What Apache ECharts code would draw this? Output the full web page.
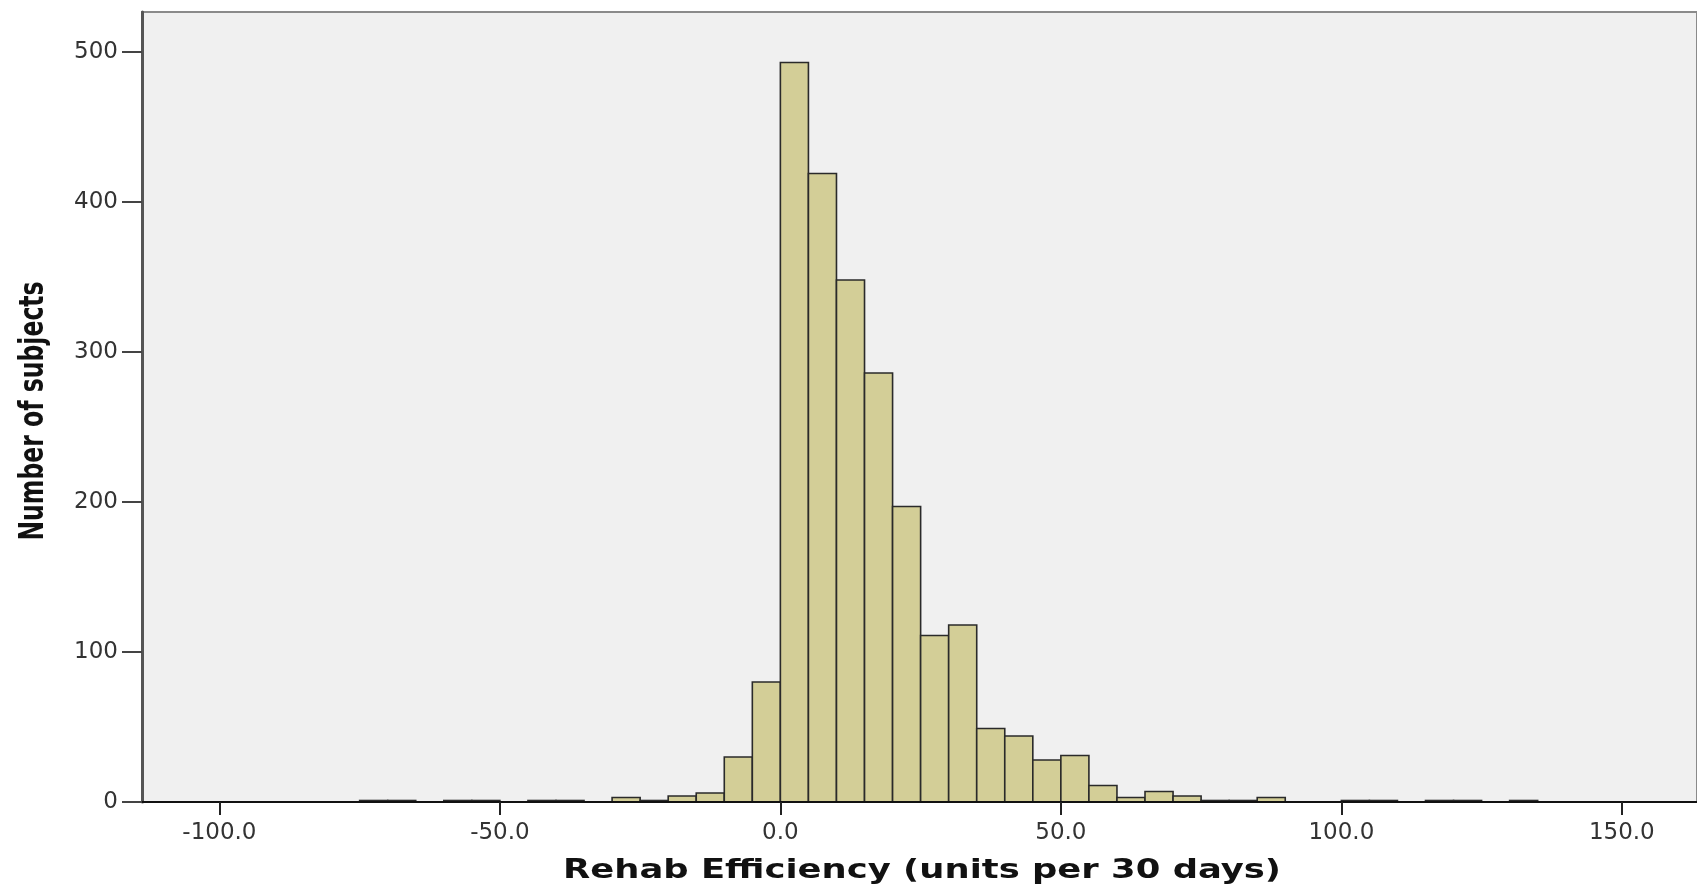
<!DOCTYPE html>
<html><head><meta charset="utf-8">
<script src="https://cdn.jsdelivr.net/npm/echarts@6/dist/echarts.min.js"></script>
<style>html,body{margin:0;padding:0;background:#fff;}#c{width:1697px;height:890px;}</style>
</head><body><div id="c"></div>
<script>
// Histogram data: bin start (units per 30 days), bin width 5, count of subjects
const binStarts = [-75,-70,-60,-55,-45,-40,-30,-25,-20,-15,-10,-5,0,5,10,15,20,25,30,35,40,45,50,55,60,65,70,75,80,85,100,105,115,120,130];
const counts    = [1,1,1,1,1,1,3,1,4,6,30,80,493,419,348,286,197,111,118,49,44,28,31,11,3,7,4,1,1,3,1,1,1,1,1];
const binWidth = 5;
const xTicks = [-100,-50,0,50,100,150];
const yTicks = [0,100,200,300,400,500];
const xTitle = 'Rehab Efficiency (units per 30 days)';
const yTitle = 'Number of subjects';

const chart = echarts.init(document.getElementById('c'), null, {renderer:'canvas'});
const tickFont = {fontFamily:'DejaVu Sans', fontSize:23, color:'#333'};
chart.setOption({
  animation:false,
  backgroundColor:'#ffffff',
  grid:{left:142, top:12, width:1560, height:790, show:true, backgroundColor:'#F0F0F0', borderColor:'#8a8a8a', borderWidth:2},
  xAxis:{
    type:'value', min:-113.8, max:163.4, z:5,
    axisLine:{show:true, onZero:false, lineStyle:{color:'#111', width:2}},
    axisTick:{show:true, customValues:xTicks, length:13, lineStyle:{color:'#222', width:2}},
    axisLabel:Object.assign({customValues:xTicks, margin:20, formatter:v=>v.toFixed(1)}, tickFont),
    splitLine:{show:false}
  },
  yAxis:{
    type:'value', min:0, max:526.67, z:5,
    axisLine:{show:true, onZero:false, lineStyle:{color:'#555', width:3}},
    axisTick:{show:true, customValues:yTicks, length:20, lineStyle:{color:'#444', width:2}},
    axisLabel:Object.assign({customValues:yTicks, margin:24}, tickFont),
    splitLine:{show:false}
  },
  graphic:[
    {type:'text', x:922, y:871, scaleX:1.31, style:{text:xTitle, fontFamily:'DejaVu Sans', fontWeight:'bold', fontSize:27, fill:'#111', align:'center', verticalAlign:'middle'}},
    {type:'text', x:34, y:411, rotation:Math.PI/2, scaleX:0.77, style:{text:yTitle, fontFamily:'DejaVu Sans Condensed, sans-serif', fontWeight:'bold', fontSize:34, fill:'#111', align:'center', verticalAlign:'middle'}}
  ],
  series:[{
    type:'custom',
    data:binStarts.map((s,i)=>[s, s+binWidth, counts[i]]),
    encode:{x:[0,1], y:2},
    renderItem:(params, api)=>{
      const p0 = api.coord([api.value(0), api.value(2)]);
      const p1 = api.coord([api.value(1), 0]);
      return {type:'rect', shape:{x:p0[0], y:p0[1], width:p1[0]-p0[0], height:p1[1]-p0[1]},
        style:{fill:'#D3CE97', stroke:'#2a2a2a', lineWidth:1.6}};
    }
  }]
});
</script></body></html>
